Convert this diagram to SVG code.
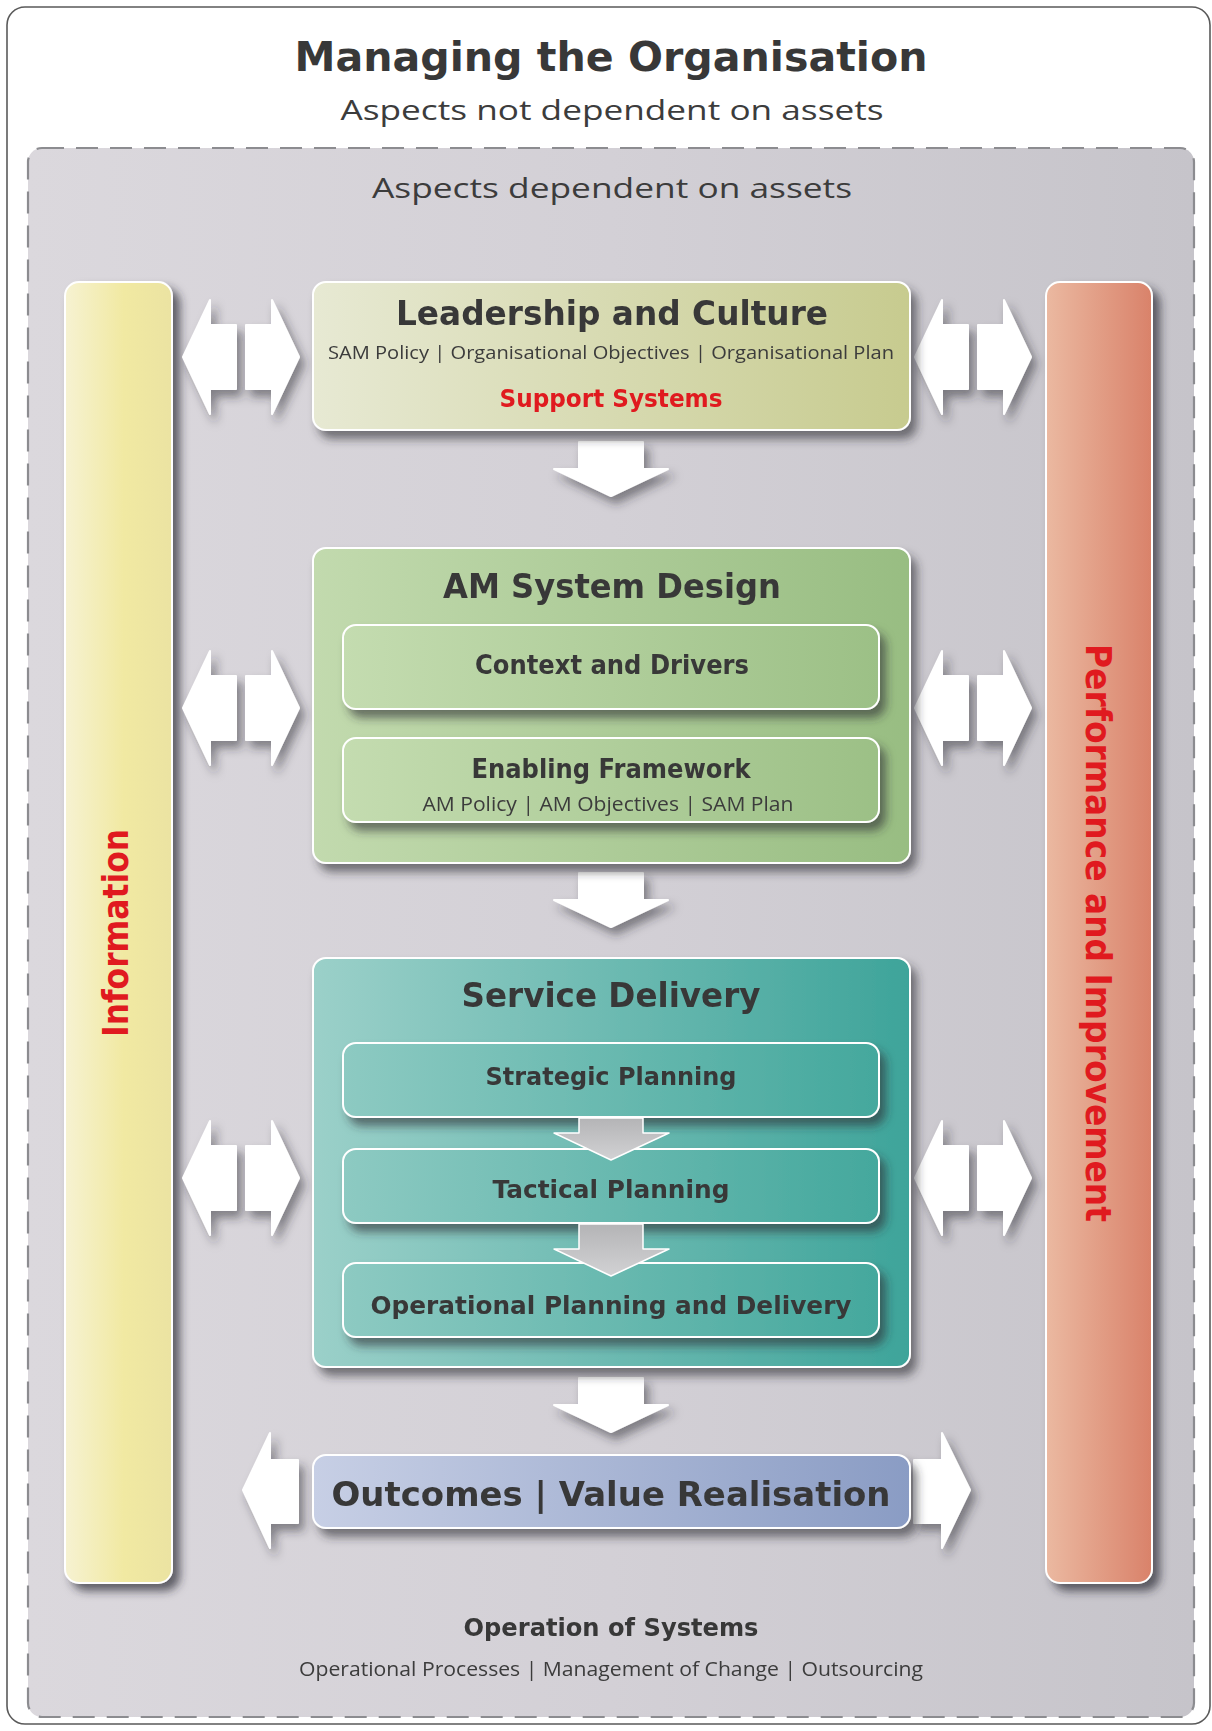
<svg xmlns="http://www.w3.org/2000/svg" width="1212" height="1731" viewBox="0 0 1212 1731">
<style>
.h{font-family:"DejaVu Sans","Liberation Sans",sans-serif;font-weight:bold;fill:#383838;text-anchor:middle}
.l{font-family:"Open Sans","DejaVu Sans",sans-serif;font-weight:normal;fill:#3c3c3c;text-anchor:middle}
.r{fill:#e01a1f}
.box{stroke:#ffffff;stroke-width:2}
.wa{fill:#ffffff;stroke:#ffffff;stroke-width:2;stroke-linejoin:round}
.ga{fill:url(#gGray);stroke:#ffffff;stroke-width:1.5;stroke-linejoin:round}
</style>
<defs>
<linearGradient id="gBg" x1="0" y1="0" x2="1" y2="0"><stop offset="0" stop-color="#dbd8dd"/><stop offset="0.5" stop-color="#d3d0d6"/><stop offset="1" stop-color="#c6c4ca"/></linearGradient>
<linearGradient id="gInfo" x1="0" y1="0" x2="1" y2="0"><stop offset="0" stop-color="#f6f2d2"/><stop offset="0.55" stop-color="#f1e9a2"/><stop offset="1" stop-color="#ebe3a2"/></linearGradient>
<linearGradient id="gPerf" x1="0" y1="0" x2="1" y2="0"><stop offset="0" stop-color="#ebb9a1"/><stop offset="1" stop-color="#d9826a"/></linearGradient>
<linearGradient id="gLead" x1="0" y1="0" x2="1" y2="0"><stop offset="0" stop-color="#e7e9d3"/><stop offset="1" stop-color="#c7cb8f"/></linearGradient>
<linearGradient id="gAM" x1="0" y1="0" x2="1" y2="0"><stop offset="0" stop-color="#c2daae"/><stop offset="1" stop-color="#98bd82"/></linearGradient>
<linearGradient id="gAMi" x1="0" y1="0" x2="1" y2="0"><stop offset="0" stop-color="#c4dcb0"/><stop offset="1" stop-color="#9cc086"/></linearGradient>
<linearGradient id="gSD" x1="0" y1="0" x2="1" y2="0"><stop offset="0" stop-color="#9bd0c9"/><stop offset="1" stop-color="#3ea49a"/></linearGradient>
<linearGradient id="gSDi" x1="0" y1="0" x2="1" y2="0"><stop offset="0" stop-color="#8dcac2"/><stop offset="1" stop-color="#44a89d"/></linearGradient>
<linearGradient id="gOut" x1="0" y1="0" x2="1" y2="0"><stop offset="0" stop-color="#c7cfe5"/><stop offset="1" stop-color="#8a9cc4"/></linearGradient>
<linearGradient id="gGray" x1="0" y1="0" x2="0" y2="1"><stop offset="0" stop-color="#b4b4b6"/><stop offset="1" stop-color="#d2d2d4"/></linearGradient>
<filter id="sh" x="-20%" y="-20%" width="150%" height="150%"><feDropShadow dx="6" dy="8" stdDeviation="5" flood-color="#2a2a30" flood-opacity="0.6"/></filter>
<filter id="shB" x="-30%" y="-5%" width="160%" height="115%"><feDropShadow dx="7" dy="7" stdDeviation="5" flood-color="#2a2a30" flood-opacity="0.7"/></filter>
<filter id="shA" x="-30%" y="-30%" width="160%" height="160%"><feDropShadow dx="5" dy="7" stdDeviation="5" flood-color="#2a2a30" flood-opacity="0.5"/></filter>
<g id="dbl"><path d="M54,-32 L28,-32 L28,-57 L1,0 L28,57 L28,32 L54,32 Z"/><path d="M64,-32 L90,-32 L90,-57 L117,0 L90,57 L90,32 L64,32 Z"/></g>
<path id="down" d="M-32,0 L32,0 L32,27 L57,27 L0,54 L-57,27 L-32,27 Z"/>
</defs>

<rect x="0" y="0" width="1212" height="1731" fill="#ffffff"/>
<rect id="frame" x="7" y="7" width="1203" height="1717" rx="18" fill="#ffffff" stroke="#5a5a5a" stroke-width="1.6"/>

<g id="header">
<text class="h" x="611" y="71" font-size="40" textLength="633" lengthAdjust="spacingAndGlyphs" fill="#333">Managing the Organisation</text>
<text class="l" x="612" y="120" font-size="28" textLength="543" lengthAdjust="spacingAndGlyphs">Aspects not dependent on assets</text>
</g>

<g id="assets-area">
<rect x="28" y="148" width="1166" height="1569" rx="14" fill="url(#gBg)" stroke="#8c8c90" stroke-width="2.2" stroke-dasharray="22 12"/>
<text class="l" x="612" y="198" font-size="28" textLength="480" lengthAdjust="spacingAndGlyphs">Aspects dependent on assets</text>
</g>

<g id="information">
<rect class="box" x="65" y="282" width="107" height="1301" rx="14" fill="url(#gInfo)" filter="url(#shB)"/>
<text class="h r" transform="translate(128,933) rotate(-90)" x="0" y="0" font-size="35" textLength="208" lengthAdjust="spacingAndGlyphs">Information</text>
</g>

<g id="performance">
<rect class="box" x="1046" y="282" width="106" height="1301" rx="14" fill="url(#gPerf)" filter="url(#shB)"/>
<text class="h r" transform="translate(1086,933) rotate(90)" x="0" y="0" font-size="35" textLength="578" lengthAdjust="spacingAndGlyphs">Performance and Improvement</text>
</g>

<g id="connectors">
<g class="wa" filter="url(#shA)">
<use href="#dbl" transform="translate(182,357)"/>
<use href="#dbl" transform="translate(914,357)"/>
<use href="#dbl" transform="translate(182,708)"/>
<use href="#dbl" transform="translate(914,708)"/>
<use href="#dbl" transform="translate(182,1178)"/>
<use href="#dbl" transform="translate(914,1178)"/>
<use href="#down" transform="translate(611,442)"/>
<use href="#down" transform="translate(611,873)"/>
<use href="#down" transform="translate(611,1378)"/>
<path d="M298,1460 L270,1460 L270,1433 L243,1490 L270,1548 L270,1523 L298,1523 Z"/>
<path d="M914,1460 L942,1460 L942,1433 L970,1490 L942,1548 L942,1523 L914,1523 Z"/>
</g>
</g>

<g id="leadership">
<rect class="box" x="313" y="282" width="597" height="148" rx="13" fill="url(#gLead)" filter="url(#sh)"/>
<text class="h" x="612" y="325" font-size="34" textLength="432" lengthAdjust="spacingAndGlyphs">Leadership and Culture</text>
<text class="l" x="611" y="359" font-size="19" textLength="566" lengthAdjust="spacingAndGlyphs">SAM Policy | Organisational Objectives | Organisational Plan</text>
<text class="h r" x="611" y="407" font-size="24" textLength="223" lengthAdjust="spacingAndGlyphs">Support Systems</text>
</g>

<g id="am-system-design">
<rect class="box" x="313" y="548" width="597" height="315" rx="13" fill="url(#gAM)" filter="url(#sh)"/>
<text class="h" x="612" y="598" font-size="33" textLength="338" lengthAdjust="spacingAndGlyphs">AM System Design</text>
</g>
<g id="context-drivers">
<rect class="box" x="343" y="625" width="536" height="84" rx="13" fill="url(#gAMi)" filter="url(#sh)"/>
<text class="h" x="612" y="674" font-size="26" textLength="274" lengthAdjust="spacingAndGlyphs">Context and Drivers</text>
</g>
<g id="enabling-framework">
<rect class="box" x="343" y="738" width="536" height="84" rx="13" fill="url(#gAMi)" filter="url(#sh)"/>
<text class="h" x="611" y="778" font-size="26" textLength="279" lengthAdjust="spacingAndGlyphs">Enabling Framework</text>
<text class="l" x="608" y="811" font-size="20" textLength="371" lengthAdjust="spacingAndGlyphs">AM Policy | AM Objectives | SAM Plan</text>
</g>

<g id="service-delivery">
<rect class="box" x="313" y="958" width="597" height="409" rx="13" fill="url(#gSD)" filter="url(#sh)"/>
<text class="h" x="611" y="1007" font-size="33" textLength="299" lengthAdjust="spacingAndGlyphs">Service Delivery</text>
</g>
<g id="strategic-planning">
<rect class="box" x="343" y="1043" width="536" height="74" rx="13" fill="url(#gSDi)" filter="url(#sh)"/>
<text class="h" x="611" y="1085" font-size="24" textLength="251" lengthAdjust="spacingAndGlyphs">Strategic Planning</text>
</g>
<g id="tactical-planning">
<rect class="box" x="343" y="1149" width="536" height="74" rx="13" fill="url(#gSDi)" filter="url(#sh)"/>
<text class="h" x="611" y="1198" font-size="24" textLength="237" lengthAdjust="spacingAndGlyphs">Tactical Planning</text>
</g>
<g id="operational-planning">
<rect class="box" x="343" y="1263" width="536" height="74" rx="13" fill="url(#gSDi)" filter="url(#sh)"/>
<text class="h" x="611" y="1314" font-size="24" textLength="481" lengthAdjust="spacingAndGlyphs">Operational Planning and Delivery</text>
</g>
<g id="inner-connectors">
<path class="ga" d="M579,1118 L643,1118 L643,1133 L669,1133 L611,1160 L554,1133 L579,1133 Z"/>
<path class="ga" d="M579,1224 L643,1224 L643,1249 L669,1249 L611,1276 L554,1249 L579,1249 Z"/>
</g>

<g id="outcomes">
<rect class="box" x="313" y="1455" width="597" height="73" rx="13" fill="url(#gOut)" filter="url(#sh)"/>
<text class="h" x="611" y="1506" font-size="34" textLength="559" lengthAdjust="spacingAndGlyphs">Outcomes | Value Realisation</text>
</g>

<g id="operation-of-systems">
<text class="h" x="611" y="1636" font-size="25" textLength="295" lengthAdjust="spacingAndGlyphs">Operation of Systems</text>
<text class="l" x="611" y="1676" font-size="20" textLength="624" lengthAdjust="spacingAndGlyphs">Operational Processes | Management of Change | Outsourcing</text>
</g>
</svg>
